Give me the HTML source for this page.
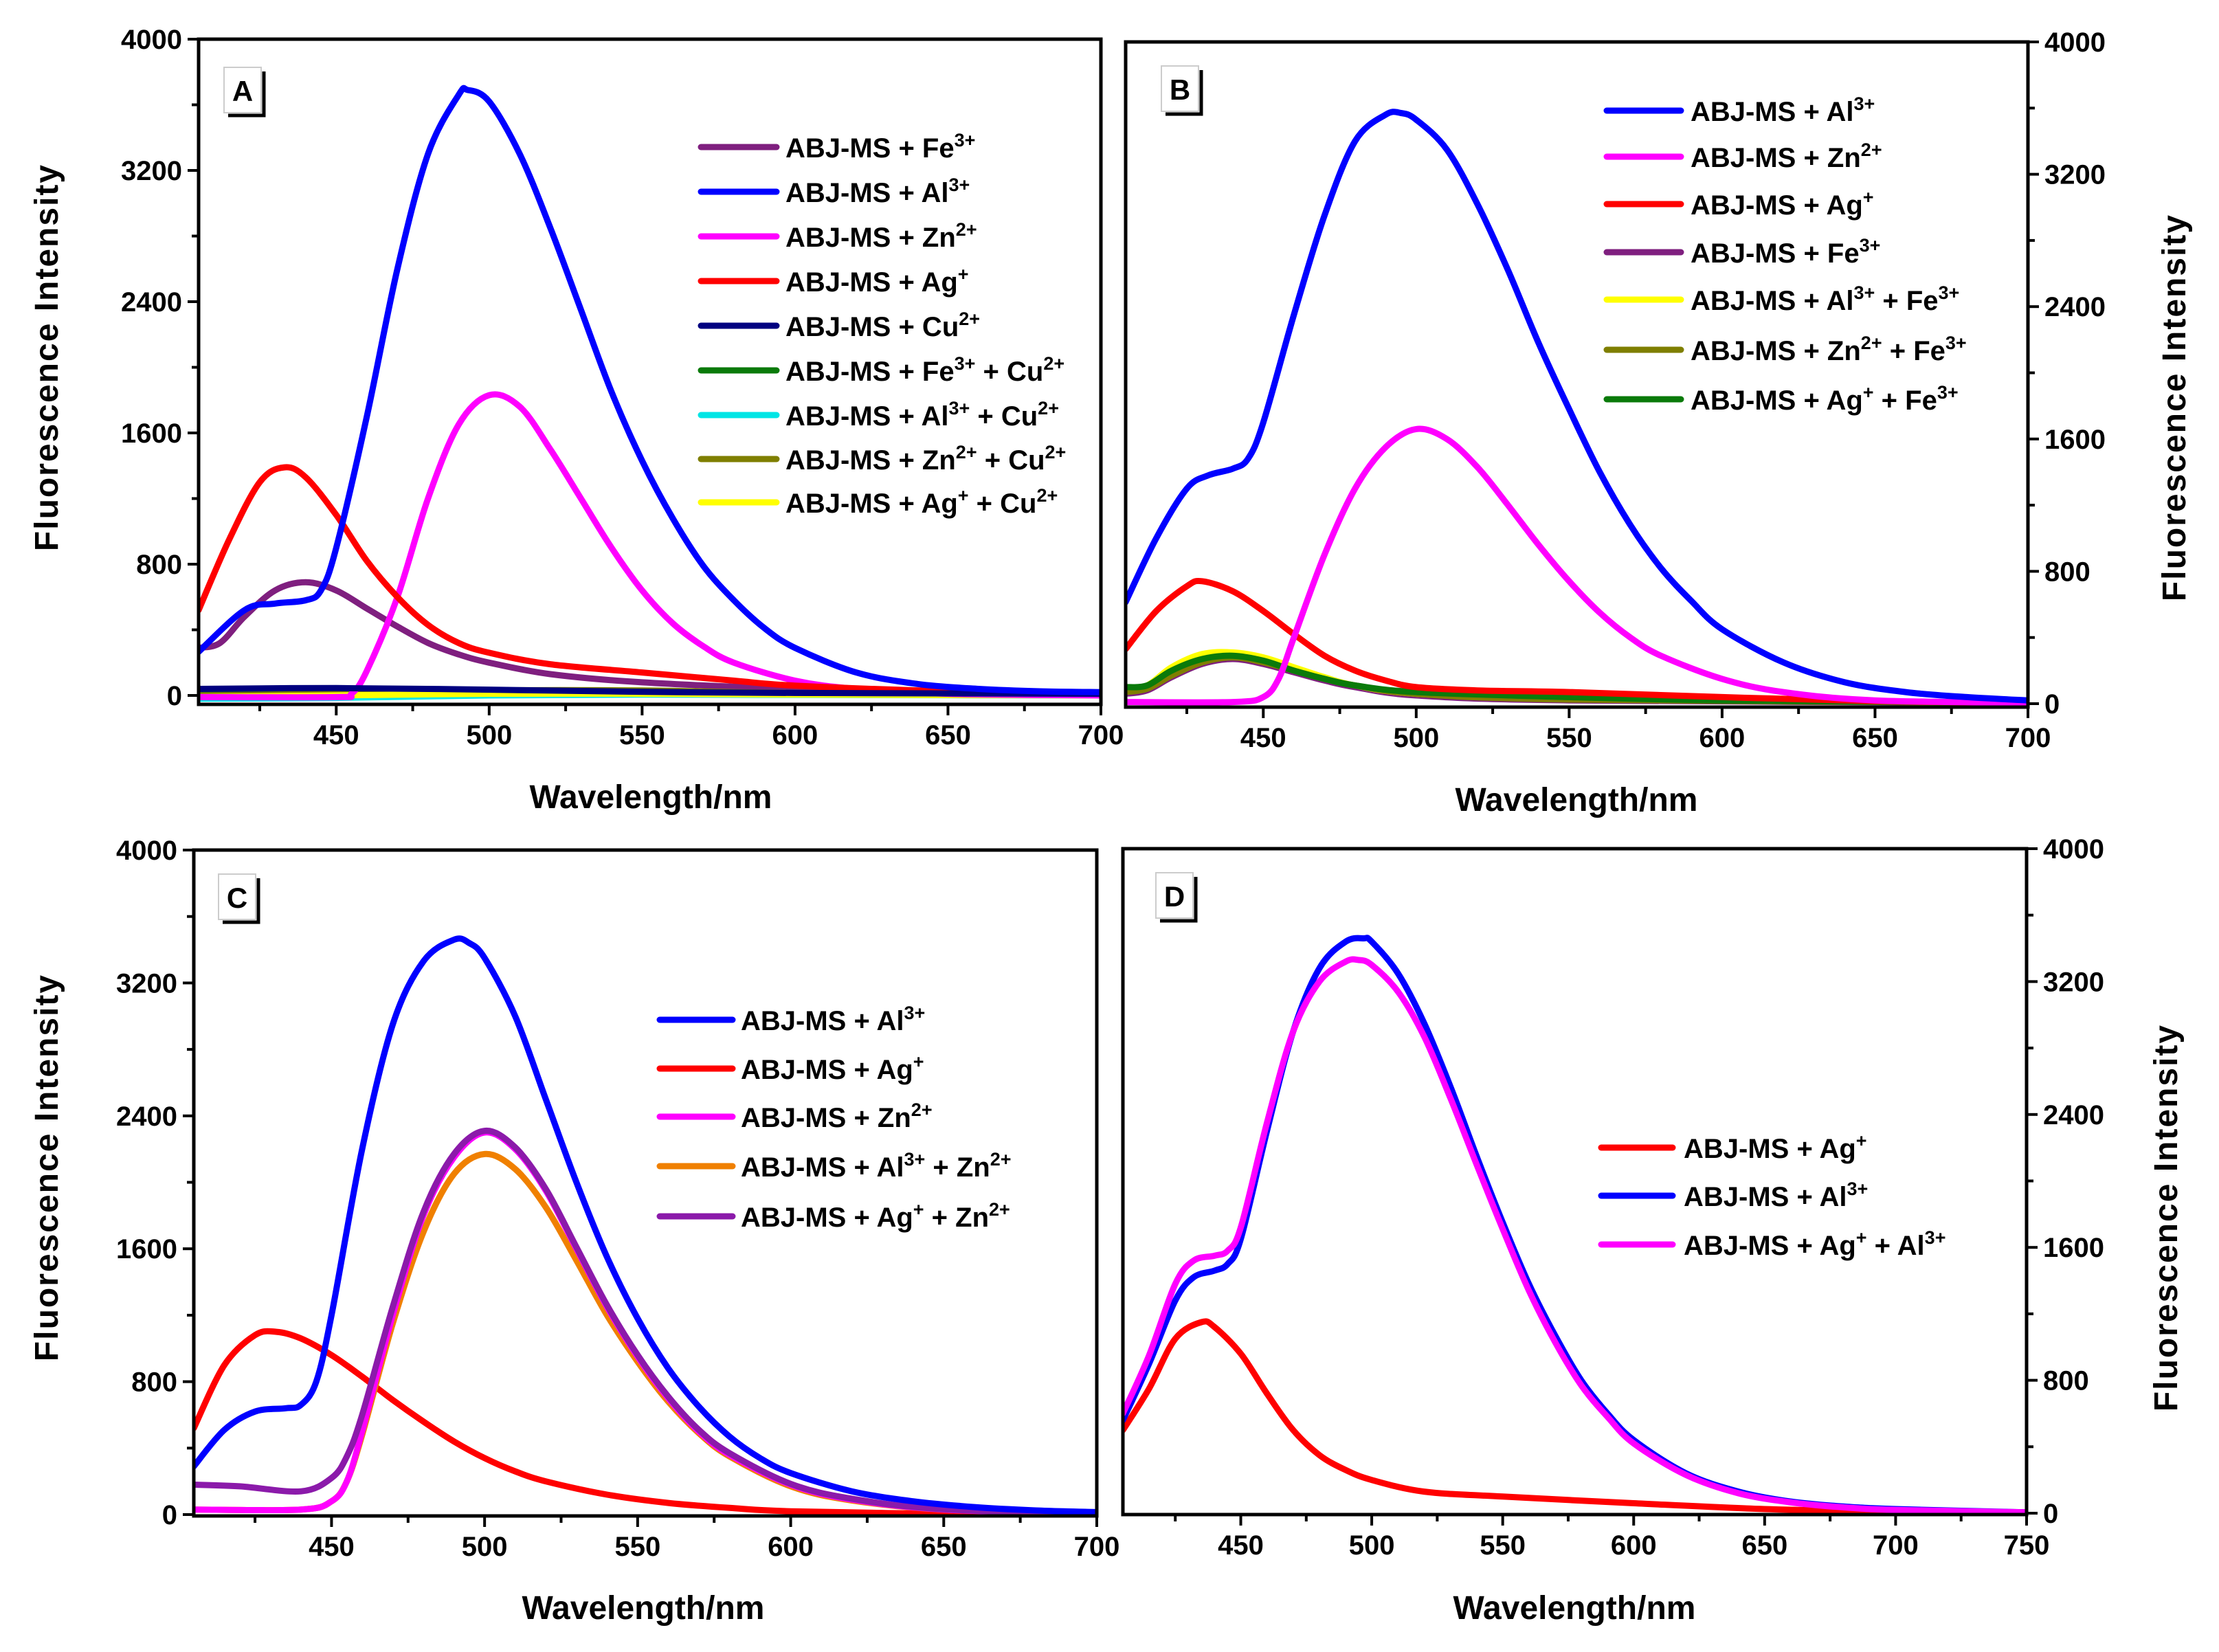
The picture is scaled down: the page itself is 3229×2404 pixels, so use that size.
<!DOCTYPE html>
<html><head><meta charset="utf-8">
<style>
html,body{margin:0;padding:0;background:#fff;}
svg{display:block;font-family:"Liberation Sans",Arial,sans-serif;font-weight:bold;}
</style></head>
<body>
<svg id="fig" width="3229" height="2404" viewBox="0 0 3229 2404" xmlns="http://www.w3.org/2000/svg">
<rect width="3229" height="2404" fill="#fff"/>
</svg>
<script>
// ---------- data ----------
const panelLetters = ["A","B","C","D"];
const yTicks = [0,800,1600,2400,3200,4000];
const xTicksABC = [450,500,550,600,650,700];
const xTicksD = [450,500,550,600,650,700,750];

// Panel A
const aFeX=[405,412,420,430,440,450,460,470,480,490,500,520,550,600,650,700];
const aFeY=[290,320,480,640,690,640,530,420,320,250,200,130,80,40,20,10];
const aAlX=[405,420,430,440,445,450,460,470,480,490,493,500,510,520,530,540,550,560,570,580,590,600,620,640,660,680,700];
const aAlY=[266,520,560,580,640,900,1700,2600,3300,3660,3690,3620,3300,2850,2350,1850,1430,1080,790,580,410,290,140,70,40,25,20];
const aZnX=[405,450,455,460,470,480,490,500,510,520,530,540,550,560,570,580,600,620,650,700];
const aZnY=[-10,-10,10,150,600,1200,1650,1830,1760,1500,1200,900,640,440,300,200,90,40,10,0];
const aAgX=[405,415,425,433,440,450,460,470,480,490,500,520,550,580,600,650,700];
const aAgY=[520,950,1300,1390,1330,1100,820,600,430,320,260,190,140,90,60,25,10];
const aCuX=[405,450,500,550,600,700];
const aCuY=[40,45,35,22,15,10];
const aFeCuX=[405,450,500,550,600,700];
const aFeCuY=[5,15,25,20,12,5];
const aAlCuX=[405,450,500,550,600,700];
const aAlCuY=[-20,-15,0,5,3,0];
const aZnCuX=[405,450,500,550,600,700];
const aZnCuY=[0,10,30,30,15,5];
const aAgCuX=[405,450,500,550,600,700];
const aAgCuY=[-10,0,10,10,5,0];

// Panel B
const bAlX=[405,415,425,432,440,445,450,460,470,480,490,495,500,510,520,530,540,550,560,570,580,590,600,620,640,660,680,700];
const bAlY=[614,1000,1300,1380,1420,1480,1700,2350,2950,3400,3560,3570,3530,3350,3020,2620,2180,1780,1400,1080,820,620,450,250,130,70,40,20];
const bZnX=[405,440,450,455,460,470,480,490,500,510,520,530,540,550,560,570,580,600,620,650,700];
const bZnY=[10,10,40,150,400,900,1300,1550,1660,1600,1430,1200,960,740,550,400,290,150,70,20,5];
const bAgX=[405,415,425,430,440,450,460,470,480,490,500,520,550,600,650,700];
const bAgY=[330,560,710,740,680,560,420,290,200,140,100,80,70,40,15,5];
const bFeX=[405,412,420,430,440,450,460,470,480,500,550,700];
const bFeY=[60,80,160,240,270,240,190,140,100,50,20,5];
const bAlFeX=[405,412,420,430,440,450,460,470,480,500,550,700];
const bAlFeY=[100,110,220,300,310,280,220,160,110,60,30,5];
const bZnFeX=[405,412,420,430,440,450,460,470,480,500,550,700];
const bZnFeY=[70,90,170,250,280,250,200,150,110,60,25,5];
const bAgFeX=[405,412,420,430,440,450,460,470,480,500,550,600,700];
const bAgFeY=[100,110,200,270,290,260,200,150,110,70,40,20,5];

// Panel C
const cAlX=[405,415,425,435,440,445,450,460,470,480,490,495,500,510,520,530,540,550,560,570,580,590,600,620,640,660,680,700];
const cAlY=[290,510,620,640,660,800,1200,2200,2950,3330,3460,3440,3350,3000,2500,2000,1550,1180,880,650,470,340,250,140,80,45,25,15];
const cAgX=[405,415,425,432,440,450,460,470,480,490,500,510,520,540,560,580,600,650,700];
const cAgY=[520,900,1080,1100,1060,960,830,690,560,440,340,260,200,120,70,40,20,5,0];
const cZnX=[405,440,450,455,460,470,480,490,500,510,520,530,540,550,560,570,580,600,620,650,700];
const cZnY=[30,30,80,200,500,1200,1800,2150,2300,2200,1950,1600,1250,950,700,500,360,180,90,30,5];
const cAlZnX=[405,440,450,455,460,470,480,490,500,510,520,530,540,550,560,570,580,600,620,650,700];
const cAlZnY=[30,30,80,200,480,1150,1700,2050,2170,2080,1850,1530,1200,920,680,490,350,170,85,30,5];
const cAgZnX=[405,420,440,450,455,460,470,480,490,500,510,520,530,540,550,560,570,580,600,620,650,700];
const cAgZnY=[180,170,140,220,350,600,1250,1820,2170,2310,2210,1960,1610,1260,960,710,510,370,185,95,32,5];

// Panel D
const dAgX=[405,415,425,435,440,450,460,470,480,490,500,520,550,600,650,700,750];
const dAgY=[500,750,1050,1150,1120,960,720,500,350,260,200,130,100,60,25,10,5];
const dAlX=[405,415,425,432,440,445,450,460,470,480,490,497,500,510,520,530,540,550,560,570,580,590,600,620,640,660,680,700,750];
const dAlY=[560,900,1280,1420,1460,1500,1650,2300,2900,3280,3440,3460,3440,3250,2950,2570,2150,1750,1380,1070,800,600,440,240,130,70,40,25,5];
const dAgAlX=[405,415,425,432,440,445,450,460,470,480,490,495,500,510,520,530,540,550,560,570,580,590,600,620,640,660,680,700,750];
const dAgAlY=[600,950,1380,1520,1550,1580,1720,2350,2900,3200,3320,3330,3300,3140,2870,2500,2100,1710,1340,1030,770,580,420,230,120,65,35,20,5];

// ---------- drawing ----------
const NS="http://www.w3.org/2000/svg";
const svg=document.getElementById('fig');
function mk(tag,attrs,parent){const e=document.createElementNS(NS,tag);for(const k in attrs)e.setAttribute(k,attrs[k]);(parent||svg).appendChild(e);return e;}

function smoothPath(pts){
  let d="M"+pts[0][0].toFixed(1)+","+pts[0][1].toFixed(1);
  for(let i=0;i<pts.length-1;i++){
    const p0=pts[Math.max(0,i-1)],p1=pts[i],p2=pts[i+1],p3=pts[Math.min(pts.length-1,i+2)];
    const c1x=p1[0]+(p2[0]-p0[0])/6,c1y=p1[1]+(p2[1]-p0[1])/6;
    const c2x=p2[0]-(p3[0]-p1[0])/6,c2y=p2[1]-(p3[1]-p1[1])/6;
    d+=" C"+c1x.toFixed(1)+","+c1y.toFixed(1)+" "+c2x.toFixed(1)+","+c2y.toFixed(1)+" "+p2[0].toFixed(1)+","+p2[1].toFixed(1);
  }
  return d;
}

function panel(cfg){
  const g=mk('g',{});
  
  
  const sx=v=>cfg.L+(v-cfg.xmin)/(cfg.xmax-cfg.xmin)*(cfg.R-cfg.L);
  const sy=v=>cfg.Y0-(v/4000)*(cfg.Y0-cfg.T);
  // clip
  const cid='clip'+cfg.letter;
  const cp=mk('clipPath',{id:cid},g);
  mk('rect',{x:cfg.L,y:cfg.T,width:cfg.R-cfg.L,height:cfg.B-cfg.T},cp);
  // series
  const sg=mk('g',{'clip-path':'url(#'+cid+')'},g);
  cfg.series.forEach(s=>{
    const pts=s.x.map((xv,i)=>[sx(xv),sy(s.y[i])]);
    const p=mk('path',{d:smoothPath(pts),fill:'none',stroke:s.color,'stroke-width':9,'stroke-linejoin':'round','stroke-linecap':'round'},sg);
    
    
  });
  // frame
  const fr=mk('rect',{x:cfg.L,y:cfg.T,width:cfg.R-cfg.L,height:cfg.B-cfg.T,fill:'none',stroke:'#000','stroke-width':5},g);
  
  
  // x ticks
  const xt=mk('g',{},g);
  
  
  for(let v=425;v<=cfg.xmax;v+=25){
    if(v<cfg.xmin) continue;
    const major=v%50===0;
    mk('line',{x1:sx(v),x2:sx(v),y1:cfg.B,y2:cfg.B+(major?16:10),stroke:'#000','stroke-width':4},xt);
  }
  cfg.xticks.forEach(v=>{
    const t=mk('text',{x:sx(v),y:cfg.B+58,'font-size':40,'text-anchor':'middle',fill:'#000'},xt);
    t.textContent=v;
    
    
  });
  // y ticks
  const yt=mk('g',{},g);
  
  
  const ax=cfg.right?cfg.R:cfg.L, dir=cfg.right?1:-1;
  for(let v=0;v<=4000;v+=400){
    const major=v%800===0;
    mk('line',{x1:ax,x2:ax+dir*(major?16:10),y1:sy(v),y2:sy(v),stroke:'#000','stroke-width':4},yt);
  }
  yTicks.forEach(v=>{
    const t=mk('text',{x:ax+dir*24,y:sy(v)+14,'font-size':40,'text-anchor':cfg.right?'start':'end',fill:'#000'},yt);
    t.textContent=v;
    
    
  });
  // axis titles
  const xtT=mk('text',{x:cfg.xtX,y:cfg.xtY,'font-size':48,'text-anchor':'middle',fill:'#000'},g);
  xtT.textContent='Wavelength/nm';
  
  
  const ytT=mk('text',{x:0,y:0,'font-size':48,'text-anchor':'middle',fill:'#000',transform:'translate('+cfg.ytX+','+cfg.ytY+') rotate(-90)','letter-spacing':'2'},g);
  ytT.textContent='Fluorescence Intensity';
  
  
  // letter box
  const lb=mk('g',{},g);
  
  
  mk('rect',{x:cfg.lbX,y:cfg.lbY,width:54,height:66,fill:'#fff',stroke:'#ccc','stroke-width':2},lb);
  mk('polyline',{points:(cfg.lbX+58)+','+(cfg.lbY+6)+' '+(cfg.lbX+58)+','+(cfg.lbY+70)+' '+(cfg.lbX+6)+','+(cfg.lbY+70),fill:'none',stroke:'#000','stroke-width':5},lb);
  const lt=mk('text',{x:cfg.lbX+27,y:cfg.lbY+49,'font-size':42,'text-anchor':'middle',fill:'#000'},lb);
  lt.textContent=cfg.letter;
  // legend
  const lg=mk('g',{},g);
  
  
  cfg.legend.forEach((e,i)=>{
    const y=cfg.legY[i];
    const eg=mk('g',{},lg);
    
    
    mk('line',{x1:cfg.legL1,x2:cfg.legL2,y1:y,y2:y,stroke:e.color,'stroke-width':9,'stroke-linecap':'round'},eg);
    const t=mk('text',{x:cfg.legTX,y:y+15,'font-size':40,fill:'#000'},eg);
    t.innerHTML=e.html;
  });
}
function sup(s){return '<tspan dy="-16" font-size="27">'+s+'</tspan><tspan dy="16"> </tspan>';}
const T=(ion,ch)=>'ABJ-MS + '+ion+sup(ch);

panel({letter:'A',L:289,R:1602,T:57,Y0:1012,B:1025,xmin:405,xmax:700,xticks:xTicksABC,right:false,
  xtX:947,xtY:1176,ytX:84,ytY:520,lbX:326,lbY:98,
  legL1:1020,legL2:1130,legTX:1143,legY:[214,279,344,409,474,539,604,668,731],
  series:[
   {key:'fe',x:aFeX,y:aFeY,color:'#7f1f7f'},
   {key:'fe-cu',x:aFeCuX,y:aFeCuY,color:'#0a7a0a'},
   {key:'al-cu',x:aAlCuX,y:aAlCuY,color:'#00e5e5'},
   {key:'zn-cu',x:aZnCuX,y:aZnCuY,color:'#7f7f00'},
   {key:'ag-cu',x:aAgCuX,y:aAgCuY,color:'#ffff00'},
   {key:'zn',x:aZnX,y:aZnY,color:'#ff00ff'},
   {key:'ag',x:aAgX,y:aAgY,color:'#ff0000'},
   {key:'cu',x:aCuX,y:aCuY,color:'#000080'},
   {key:'al',x:aAlX,y:aAlY,color:'#0000ff'}],
  legend:[{color:'#7f1f7f',html:T('Fe','3+')},{color:'#0000ff',html:T('Al','3+')},{color:'#ff00ff',html:T('Zn','2+')},
   {color:'#ff0000',html:T('Ag','+')},{color:'#000080',html:T('Cu','2+')},
   {color:'#0a7a0a',html:'ABJ-MS + Fe'+sup('3+')+' + Cu'+sup('2+')},{color:'#00e5e5',html:'ABJ-MS + Al'+sup('3+')+' + Cu'+sup('2+')},
   {color:'#7f7f00',html:'ABJ-MS + Zn'+sup('2+')+' + Cu'+sup('2+')},{color:'#ffff00',html:'ABJ-MS + Ag'+sup('+')+' + Cu'+sup('2+')}]
});
panel({letter:'B',L:1638,R:2951,T:61,Y0:1024,B:1029,xmin:405,xmax:700,xticks:xTicksABC,right:true,
  xtX:2294,xtY:1180,ytX:3180,ytY:593,lbX:1690,lbY:96,
  legL1:2338,legL2:2446,legTX:2460,legY:[161,228,297,367,436,509,581],
  series:[
   {key:'fe',x:bFeX,y:bFeY,color:'#7f1f7f'},
   {key:'al-fe',x:bAlFeX,y:bAlFeY,color:'#ffff00'},
   {key:'zn-fe',x:bZnFeX,y:bZnFeY,color:'#7f7f00'},
   {key:'ag-fe',x:bAgFeX,y:bAgFeY,color:'#0a7a0a'},
   {key:'ag',x:bAgX,y:bAgY,color:'#ff0000'},
   {key:'zn',x:bZnX,y:bZnY,color:'#ff00ff'},
   {key:'al',x:bAlX,y:bAlY,color:'#0000ff'}],
  legend:[{color:'#0000ff',html:T('Al','3+')},{color:'#ff00ff',html:T('Zn','2+')},{color:'#ff0000',html:T('Ag','+')},
   {color:'#7f1f7f',html:T('Fe','3+')},{color:'#ffff00',html:'ABJ-MS + Al'+sup('3+')+' + Fe'+sup('3+')},
   {color:'#7f7f00',html:'ABJ-MS + Zn'+sup('2+')+' + Fe'+sup('3+')},{color:'#0a7a0a',html:'ABJ-MS + Ag'+sup('+')+' + Fe'+sup('3+')}]
});
panel({letter:'C',L:282,R:1596,T:1237,Y0:2204,B:2206,xmin:405,xmax:700,xticks:xTicksABC,right:false,
  xtX:936,xtY:2356,ytX:84,ytY:1699,lbX:318,lbY:1272,
  legL1:960,legL2:1066,legTX:1078,legY:[1484,1555,1625,1697,1770],
  series:[
   {key:'ag',x:cAgX,y:cAgY,color:'#ff0000'},
   {key:'al-zn',x:cAlZnX,y:cAlZnY,color:'#f08000'},
   {key:'zn',x:cZnX,y:cZnY,color:'#ff00ff'},
   {key:'ag-zn',x:cAgZnX,y:cAgZnY,color:'#8b1aaa'},
   {key:'al',x:cAlX,y:cAlY,color:'#0000ff'}],
  legend:[{color:'#0000ff',html:T('Al','3+')},{color:'#ff0000',html:T('Ag','+')},{color:'#ff00ff',html:T('Zn','2+')},
   {color:'#f08000',html:'ABJ-MS + Al'+sup('3+')+' + Zn'+sup('2+')},{color:'#8b1aaa',html:'ABJ-MS + Ag'+sup('+')+' + Zn'+sup('2+')}]
});
panel({letter:'D',L:1634,R:2949,T:1235,Y0:2202,B:2204,xmin:405,xmax:750,xticks:xTicksD,right:true,
  xtX:2291,xtY:2356,ytX:3168,ytY:1772,lbX:1682,lbY:1270,
  legL1:2330,legL2:2434,legTX:2450,legY:[1670,1740,1811],
  series:[
   {key:'ag',x:dAgX,y:dAgY,color:'#ff0000'},
   {key:'al',x:dAlX,y:dAlY,color:'#0000ff'},
   {key:'ag-al',x:dAgAlX,y:dAgAlY,color:'#ff00ff'}],
  legend:[{color:'#ff0000',html:T('Ag','+')},{color:'#0000ff',html:T('Al','3+')},{color:'#ff00ff',html:'ABJ-MS + Ag'+sup('+')+' + Al'+sup('3+')}]
});
</script>
</body></html>
